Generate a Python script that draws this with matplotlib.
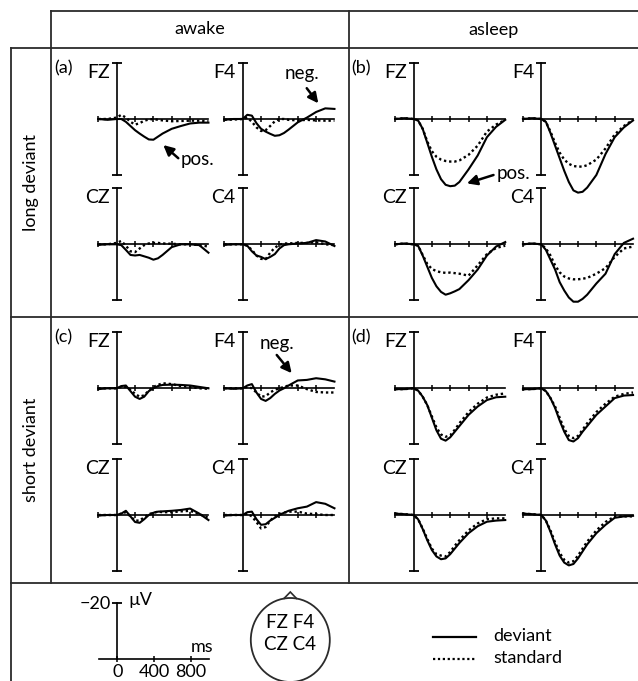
import numpy as np
import matplotlib.pyplot as plt
from matplotlib.lines import Line2D
from matplotlib.patches import Ellipse, Polygon

W, H = 638, 681
plt.rcParams['font.family'] = ['Lato', 'DejaVu Sans']

# time points (ms) and ERP amplitudes (µV, positive plotted downward)
t_ms = [-200, -100, 0, 50, 100, 150, 200, 250, 300, 350, 400, 450, 500, 600, 700, 800, 900, 1000]
electrodes = ['FZ', 'F4', 'CZ', 'C4']

# (a) awake, long deviant -- rows: FZ, F4, CZ, C4
awake_long_dev = [
    [0, 0.3, 0, 0, 1.0, 2.5, 4.0, 5.2, 6.3, 7.3, 7.4, 6.3, 5.2, 3.5, 2.5, 1.6, 1.3, 1.3],
    [0.3, 0, 0, -1.5, -1.2, 1.5, 3.5, 4.5, 5.3, 6.0, 5.8, 5.0, 3.8, 1.2, -0.5, -2.5, -3.8, -3.6],
    [0.2, 0, 0, 0.3, 2.0, 3.8, 4.0, 3.8, 4.3, 4.8, 5.5, 5.0, 3.8, 1.0, 0, 0, 0.3, 3.0],
    [0.2, 0, 0, 0.5, 2.5, 4.0, 4.5, 5.3, 4.5, 3.5, 1.5, 0.3, 0, -0.3, -0.5, -1.5, -1.0, 0.6],
]
awake_long_std = [
    [0, 0, -0.5, -1.5, -0.5, 1.0, 2.0, 1.5, 0.6, 0.2, 0, 0.3, 0.5, 0.8, 0.7, 0.6, 0.6, 0.8],
    [0.3, 0.2, 0, -0.5, 1.0, 3.0, 4.3, 4.0, 2.5, 0.8, 0, 0, 0.3, 0.5, 0.3, 0.5, 0.6, 0.6],
    [0, 0, -0.5, -1.2, 0.5, 2.5, 2.8, 1.5, 0.3, -0.3, -0.5, -0.5, -0.3, -0.2, 0, 0, 0.3, 0.8],
    [0, 0, 0, 0.5, 2.0, 4.0, 5.2, 5.3, 3.0, 1.2, 0.2, -0.3, -0.3, -0.5, -0.5, -0.8, 0, 0.3],
]
# (b) asleep, long deviant
asleep_long_dev = [
    [0, -0.3, 0, 0.5, 3.5, 8.5, 13.5, 18.0, 21.5, 23.5, 24.0, 23.8, 22.5, 18.0, 13.0, 6.5, 2.8, 0.3],
    [0, -0.3, 0, 1.0, 5.0, 9.5, 14.0, 18.5, 22.5, 25.5, 26.3, 26.0, 24.5, 20.0, 12.5, 6.5, 3.0, 0.5],
    [0, -0.3, 0, 0.5, 4.0, 8.0, 12.0, 15.0, 17.0, 18.0, 17.5, 16.8, 16.0, 12.8, 9.0, 4.0, 0.8, -0.8],
    [0, -0.3, 0, 2.0, 5.5, 9.0, 13.5, 16.5, 19.0, 20.5, 20.5, 19.5, 18.0, 14.0, 10.5, 3.5, -0.5, -2.0],
]
asleep_long_std = [
    [0, -0.3, 0, 0.5, 3.5, 8.0, 11.5, 13.5, 14.5, 15.0, 15.2, 15.2, 14.8, 12.8, 9.5, 4.5, 2.0, 0.3],
    [0, -0.3, 0, 1.0, 4.5, 8.5, 12.0, 14.5, 16.0, 16.8, 17.0, 17.0, 16.5, 14.5, 10.5, 5.5, 2.5, 0.3],
    [0, -0.3, 0, 0.5, 3.8, 7.0, 8.8, 9.6, 10.0, 10.2, 10.1, 10.3, 10.5, 11.2, 7.5, 3.5, 1.3, 0.5],
    [0, -0.3, 0, 1.5, 4.0, 7.5, 10.0, 11.5, 12.2, 12.5, 12.5, 12.3, 12.0, 10.5, 8.5, 4.5, 1.5, 0.8],
]
# (c) awake, short deviant
awake_short_dev = [
    [0.3, 0, 0, -0.8, -1.0, 1.0, 3.0, 3.8, 3.0, 1.0, 0, -0.8, -1.2, -1.3, -1.2, -1.0, -0.5, 0],
    [0, 0.2, 0, -1.0, -1.5, 1.5, 3.8, 4.5, 3.5, 2.0, 0.8, 0, -1.0, -2.8, -3.0, -3.6, -3.2, -2.4],
    [0.2, 0, 0, -0.5, -1.5, 0.5, 2.5, 2.8, 1.5, 0, -0.8, -1.2, -1.3, -1.5, -1.8, -2.3, -0.5, 1.8],
    [0.2, 0, 0, -1.0, -1.2, 1.5, 3.5, 3.3, 2.0, 1.0, 0, -0.8, -1.5, -2.4, -3.0, -4.6, -4.0, -2.4],
]
awake_short_std = [
    [0, 0, 0, -0.5, -0.5, 0.5, 2.0, 3.0, 2.5, 0.8, -0.5, -1.2, -1.8, -1.5, -0.8, -0.5, 0, 0.2],
    [0, 0, 0, -0.5, 0, 1.5, 3.0, 2.8, 1.5, 0.5, 0, -0.5, -1.0, -1.0, 0.3, 1.3, 1.5, 1.5],
    [0, 0, 0, -0.5, -1.0, 0.5, 2.0, 2.0, 0.8, -0.3, -0.8, -1.2, -1.0, -1.0, -1.3, -1.5, -0.3, 1.0],
    [0, 0, 0, -0.5, 0.5, 2.5, 4.8, 4.3, 2.0, 0.5, -0.3, -0.8, -1.2, -1.2, -0.5, -0.3, 0, 0],
]
# (d) asleep, short deviant
asleep_short_dev = [
    [0.3, 0.3, 0, 0.8, 3.0, 6.0, 10.5, 15.0, 18.0, 18.7, 17.5, 15.5, 13.5, 9.5, 6.5, 4.2, 3.2, 3.0],
    [0.3, 0.3, 0, 1.0, 3.5, 7.0, 11.5, 15.5, 18.5, 19.0, 17.8, 15.5, 13.5, 9.5, 6.5, 3.5, 2.6, 2.4],
    [-0.5, -0.3, 0, 1.5, 5.0, 9.0, 12.5, 14.8, 15.8, 15.5, 14.0, 12.0, 10.0, 6.5, 4.0, 2.4, 2.0, 1.8],
    [-0.5, -0.3, 0, 2.0, 6.0, 10.5, 14.5, 17.0, 18.0, 17.5, 15.5, 13.0, 10.5, 6.5, 3.5, 1.0, 0.5, 0.3],
]
asleep_short_std = [
    [0.3, 0.3, 0, 0.8, 3.0, 6.0, 10.0, 14.0, 16.5, 17.3, 16.8, 14.8, 12.5, 8.5, 5.5, 3.3, 2.3, 1.8],
    [0.3, 0.3, 0, 1.0, 3.5, 6.5, 10.5, 14.5, 17.0, 17.8, 17.0, 14.8, 12.5, 8.5, 5.5, 3.0, 2.0, 1.5],
    [-0.5, -0.3, 0, 1.5, 4.8, 8.5, 12.0, 14.0, 14.5, 14.8, 13.2, 11.0, 9.0, 5.5, 3.0, 1.5, 1.2, 1.2],
    [-0.5, -0.3, 0, 2.0, 5.5, 9.8, 13.5, 16.0, 17.0, 16.5, 14.5, 12.0, 9.5, 5.5, 2.5, 0.5, 0.5, 0.5],
]

# pixel scale of every mini plot
PX_MS = 36.7 / 400.0
PX_UV = 56.0 / 20.0

fig = plt.figure(figsize=(W / 100, H / 100), dpi=100)


def hline(y, x0, x1):
    fig.add_artist(Line2D([x0 / W, x1 / W], [1 - y / H, 1 - y / H], color='#2b2b2b', lw=1.3))


def vline(x, y0, y1):
    fig.add_artist(Line2D([x / W, x / W], [1 - y0 / H, 1 - y1 / H], color='#2b2b2b', lw=1.3))


def make_ax(x_zero, y_zero):
    left = x_zero - 200 * PX_MS
    top = y_zero - 20 * PX_UV
    ax = fig.add_axes([left / W, 1 - (top + 40 * PX_UV) / H, 1200 * PX_MS / W, 40 * PX_UV / H])
    ax.set_xlim(-200, 1000)
    ax.set_ylim(20, -20)
    ax.patch.set_visible(False)
    for s in ['top', 'right']:
        ax.spines[s].set_visible(False)
    ax.spines['left'].set_position(('data', 0))
    ax.spines['bottom'].set_position(('data', 0))
    for s in ['left', 'bottom']:
        ax.spines[s].set_linewidth(1.2)
    ax.set_xticks([-200, 200, 400, 600, 800])
    ax.set_yticks([-20, 20])
    ax.tick_params(axis='x', direction='inout', length=5, width=1.1, labelbottom=False)
    ax.tick_params(axis='y', direction='inout', length=7, width=1.3, labelleft=False)
    return ax


# table frame
hline(10.7, 51, 638)
hline(48, 11, 638)
hline(316.7, 11, 638)
hline(583.3, 11, 638)
vline(11, 48, 681)
vline(51, 10.7, 583.3)
vline(349, 10.7, 583.3)

fig.text(200 / W, 1 - 29.5 / H, 'awake', ha='center', va='center', fontsize=13)
fig.text(493.5 / W, 1 - 29.5 / H, 'asleep', ha='center', va='center', fontsize=13)
fig.text(31 / W, 1 - 182 / H, 'long deviant', ha='center', va='center', rotation=90, fontsize=13)
fig.text(31 / W, 1 - 450 / H, 'short deviant', ha='center', va='center', rotation=90, fontsize=13)

panels = [
    ('(a)', (116.7, 242.7), (119, 244.3), awake_long_dev, awake_long_std),
    ('(b)', (413.5, 541.3), (119, 244.3), asleep_long_dev, asleep_long_std),
    ('(c)', (116.7, 242.7), (388.3, 515), awake_short_dev, awake_short_std),
    ('(d)', (413.5, 541.3), (388.3, 515), asleep_short_dev, asleep_short_std),
]

axes = {}
for letter, xs, ys, dev, std in panels:
    for i, name in enumerate(electrodes):
        xz = xs[i % 2]
        yz = ys[i // 2]
        ax = make_ax(xz, yz)
        ax.plot(t_ms, std[i], color='black', lw=1.7, ls=(0, (1, 1.2)), clip_on=False)
        ax.plot(t_ms, dev[i], color='black', lw=1.5, clip_on=False)
        fig.text((xz - 7) / W, 1 - (yz - 47) / H, name, ha='right', va='center', fontsize=14)
        axes[(letter, name)] = ax
    fig.text((xs[0] - 62) / W, 1 - (ys[0] - 51) / H, letter, ha='left', va='center', fontsize=13)

arrow = dict(arrowstyle='-|>', color='black', lw=1.8, mutation_scale=15, shrinkA=0, shrinkB=0)

ax = axes[('(a)', 'FZ')]
ax.annotate('', xy=(508, 9.3), xytext=(671, 14), arrowprops=arrow, annotation_clip=False)
ax.text(700, 14.6, 'pos.', ha='left', va='center', fontsize=13.5)

ax = axes[('(a)', 'F4')]
ax.annotate('', xy=(824, -5.6), xytext=(698, -11), arrowprops=arrow, annotation_clip=False)
ax.text(643, -16.4, 'neg.', ha='center', va='center', fontsize=13.5)

ax = axes[('(b)', 'FZ')]
ax.annotate('', xy=(582, 23), xytext=(872, 20), arrowprops=arrow, annotation_clip=False)
ax.text(1090, 19.4, 'pos.', ha='center', va='center', fontsize=13.5, clip_on=False)

ax = axes[('(c)', 'F4')]
ax.annotate('', xy=(534, -5.4), xytext=(371, -11.9), arrowprops=arrow, annotation_clip=False)
ax.text(371, -16, 'neg.', ha='center', va='center', fontsize=13.5)

# scale bar
sax = make_ax(117.3, 658.7)
sax.spines['left'].set_bounds(-20, 0)
sax.set_yticks([-20])
sax.set_yticklabels(['\u221220'])
sax.set_xticks([0, 400, 800])
sax.set_xticklabels(['0', '400', '800'])
sax.tick_params(labelbottom=True, labelleft=True, labelsize=13, pad=1)
sax.text(120, -21, '\u00b5V', ha='left', va='center', fontsize=13)
sax.text(920, -4, 'ms', ha='center', va='center', fontsize=13)

# head
fig.add_artist(Ellipse((290.3 / W, 1 - 640 / H), 79 / W, 84 / H, fill=False, ec='#2b2b2b', lw=1.3))
fig.add_artist(Polygon([(283.5 / W, 1 - 599 / H), (290.3 / W, 1 - 592 / H), (297 / W, 1 - 599 / H)],
                       closed=False, fill=False, ec='#2b2b2b', lw=1.2))
fig.text(290.3 / W, 1 - 622 / H, 'FZ F4', ha='center', va='center', fontsize=13.5)
fig.text(290.3 / W, 1 - 645 / H, 'CZ C4', ha='center', va='center', fontsize=13.5)

# legend
fig.add_artist(Line2D([433 / W, 476 / W], [1 - 637 / H, 1 - 637 / H], color='black', lw=1.6))
fig.add_artist(Line2D([433 / W, 476 / W], [1 - 659 / H, 1 - 659 / H], color='black', lw=1.6,
                      ls=(0, (1, 1.2))))
fig.text(493 / W, 1 - 636 / H, 'deviant', ha='left', va='center', fontsize=13)
fig.text(493 / W, 1 - 658 / H, 'standard', ha='left', va='center', fontsize=13)

fig.savefig('out.png', dpi=100)
